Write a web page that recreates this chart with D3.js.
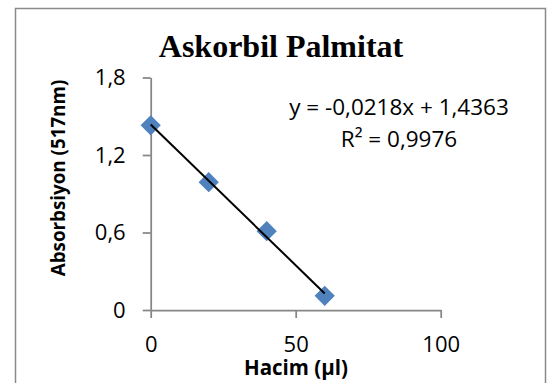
<!DOCTYPE html>
<html>
<head>
<meta charset="utf-8">
<script src="https://cdn.jsdelivr.net/npm/d3@7"></script>
<style>
  html, body { margin: 0; padding: 0; background: #fff; }
  svg { display: block; }
</style>
</head>
<body>
<svg id="chart" width="551" height="383"></svg>
<script>
// Calibration data: volume (µl) vs absorbance at 517 nm
const volumes = [0, 20, 40, 60];
const absorbances = [1.43, 0.99, 0.61, 0.11];

// Linear trendline as reported on the chart
const trendSlope = -0.0218;
const trendIntercept = 1.4363;
const trendRange = [0, 60];
const equationLines = ["y = -0,0218x + 1,4363", "R² = 0,9976"];

// Axis ticks
const xTicks = [0, 50, 100];
const xTickLabels = ["0", "50", "100"];
const yTicks = [0, 0.6, 1.2, 1.8];
const yTickLabels = ["0", "0,6", "1,2", "1,8"];

const chartTitle = "Askorbil Palmitat";
const xTitle = "Hacim (µl)";
const yTitle = "Absorbsiyon (517nm)";

const svg = d3.select("#chart");
const axisColor = "#868686";
const bodyFont = "'Open Sans', 'DejaVu Sans', sans-serif";

svg.append("rect").attr("width", 551).attr("height", 383).attr("fill", "#fff");

// Chart frame
svg.append("rect")
  .attr("x", 15.5).attr("y", 8.5)
  .attr("width", 530).attr("height", 420)
  .attr("fill", "none")
  .attr("stroke", "#8a8a8a")
  .attr("stroke-width", 1.5);

const x = d3.scaleLinear().domain([0, 100]).range([150.7, 440.7]);
const y = d3.scaleLinear().domain([0, 1.8]).range([310, 77.5]);

// Y axis
const yAxis = svg.append("g")
  .attr("transform", `translate(${x(0)},0)`)
  .call(d3.axisLeft(y)
    .tickValues(yTicks)
    .tickFormat((d, i) => yTickLabels[i])
    .tickSize(8)
    .tickSizeOuter(0)
    .tickPadding(17));

// X axis
const xAxis = svg.append("g")
  .attr("transform", `translate(0,${y(0)})`)
  .call(d3.axisBottom(x)
    .tickValues(xTicks)
    .tickFormat((d, i) => xTickLabels[i])
    .tickSize(8)
    .tickSizeOuter(0)
    .tickPadding(18));

[yAxis, xAxis].forEach(g => {
  g.select(".domain").attr("stroke", axisColor).attr("stroke-width", 1.75);
  g.selectAll(".tick line").attr("stroke", axisColor).attr("stroke-width", 1.75);
  g.selectAll(".tick text")
    .attr("fill", "#000")
    .style("font-family", bodyFont)
    .style("font-size", "22px");
});

// Data markers (diamonds)
svg.append("g")
  .selectAll("path")
  .data(volumes.map((v, i) => [v, absorbances[i]]))
  .join("path")
  .attr("d", d3.symbol(d3.symbolSquare, 205))
  .attr("transform", d => `translate(${x(d[0])},${y(d[1])}) rotate(45)`)
  .attr("fill", "#4F81BD");

// Linear trendline
svg.append("line")
  .attr("x1", x(trendRange[0]))
  .attr("y1", y(trendIntercept + trendSlope * trendRange[0]))
  .attr("x2", x(trendRange[1]))
  .attr("y2", y(trendIntercept + trendSlope * trendRange[1]))
  .attr("stroke", "#000")
  .attr("stroke-width", 2);

// Title
svg.append("text")
  .attr("x", 281).attr("y", 57)
  .attr("text-anchor", "middle")
  .style("font-family", "'Liberation Serif', 'Times New Roman', serif")
  .style("font-weight", "bold")
  .style("font-size", "32px")
  .text(chartTitle);

// Axis titles
svg.append("text")
  .attr("x", 296).attr("y", 375)
  .attr("text-anchor", "middle")
  .style("font-family", bodyFont)
  .style("font-weight", "bold")
  .style("font-size", "20.5px")
  .text(xTitle);

svg.append("text")
  .attr("transform", "translate(65,178) rotate(-90)")
  .attr("text-anchor", "middle")
  .style("font-family", bodyFont)
  .style("font-weight", "bold")
  .style("font-size", "18.8px")
  .text(yTitle);

// Trendline equation
svg.append("g")
  .selectAll("text")
  .data(equationLines)
  .join("text")
  .attr("x", 399)
  .attr("y", (d, i) => 115 + i * 32)
  .attr("text-anchor", "middle")
  .style("font-family", bodyFont)
  .style("font-size", "22.5px")
  .text(d => d);
</script>
</body>
</html>
